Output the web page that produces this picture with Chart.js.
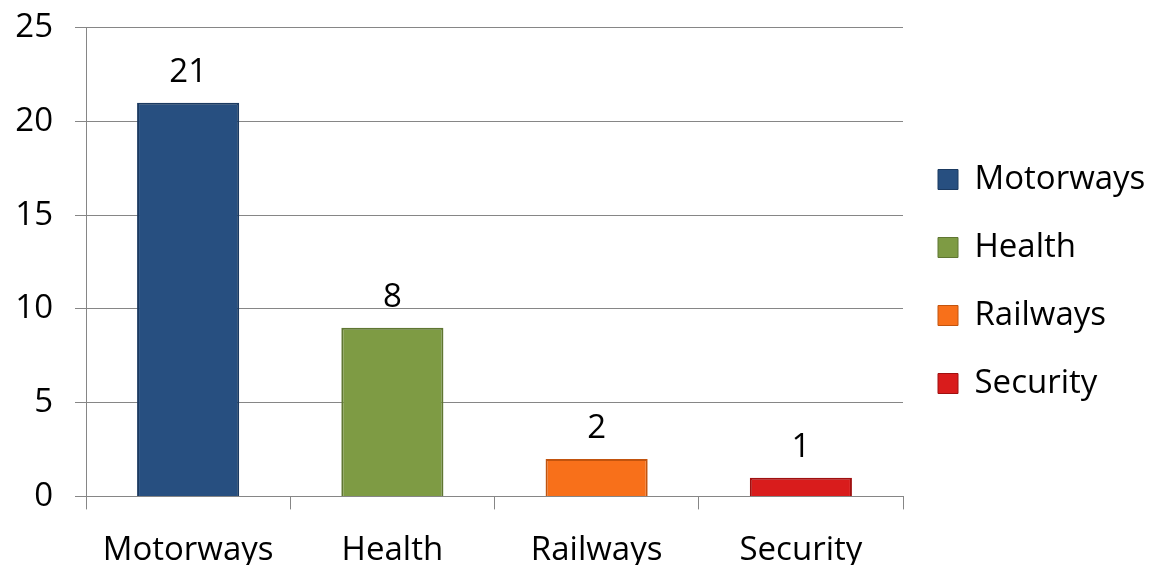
<!DOCTYPE html>
<html>
<head>
<meta charset="utf-8">
<script src="https://cdn.jsdelivr.net/npm/chart.js@4/dist/chart.umd.min.js"></script>
<style>
    html, body { margin: 0; padding: 0; background: #fff; }
    #wrap { width: 1155px; height: 565px; }
</style>
</head>
<body>
<div id="wrap"><canvas id="sectorChart"></canvas></div>
<script>
const categories = ['Motorways', 'Health', 'Railways', 'Security'];
const values = [21, 9, 2, 1];
const barLabels = ['21', '8', '2', '1'];
const barColors = ['#274f80', '#7e9b44', '#f8701a', '#d91c1c'];
const barEdges = ['#1b3a61', '#5f7632', '#c2540e', '#a01010'];
const yTicks = [0, 5, 10, 15, 20, 25];

const fontFamily = '"Open Sans", Carlito, Lato, sans-serif';
const fontSize = 33;
const legendWidth = 252;

// writes the number above each bar
const valueLabels = {
    id: 'valueLabels',
    afterDatasetsDraw(chart) {
        const ctx = chart.ctx;
        const meta = chart.getDatasetMeta(0);
        ctx.save();
        ctx.font = `${fontSize}px ${fontFamily}`;
        ctx.fillStyle = '#000';
        ctx.textAlign = 'center';
        ctx.textBaseline = 'alphabetic';
        meta.data.forEach((bar, i) => {
            ctx.fillText(barLabels[i], bar.x, bar.y - 21);
        });
        ctx.restore();
    }
};

// keep the legend column at a fixed width so the plot area lines up,
// and centre its items on the canvas rather than the padded area
const fixedLegend = {
    id: 'fixedLegend',
    beforeLayout(chart) {
        const legend = chart.legend;
        if (legend && !legend._fixedWidth) {
            const fit = legend.fit;
            legend.fit = function () {
                fit.call(this);
                this.width = legendWidth;
            };
            legend._fixedWidth = true;
        }
    },
    afterLayout(chart) {
        if (chart.legend) chart.legend.bottom -= 28;
    }
};

let ctx = document.getElementById('sectorChart').getContext('2d');
let sectorChart = new Chart(ctx, {
    type: 'bar',
    data: {
        labels: categories,
        datasets: [{
            data: values,
            backgroundColor: barColors,
            borderColor: barEdges,
            borderWidth: 2,
            barPercentage: 0.5,
            categoryPercentage: 1.0
        }]
    },
    options: {
        responsive: true,
        maintainAspectRatio: false,
        animation: false,
        layout: { padding: { top: 0, left: 0, right: 0, bottom: -26 } },
        plugins: {
            tooltip: { enabled: false },
            legend: {
                position: 'right',
                labels: {
                    font: { family: fontFamily, size: fontSize },
                    color: '#000',
                    boxWidth: 20,
                    boxHeight: 20,
                    padding: 35,
                    generateLabels: chart => chart.data.labels.map((label, i) => ({
                        text: label,
                        fillStyle: barColors[i],
                        strokeStyle: barEdges[i],
                        lineWidth: 1,
                        index: i
                    }))
                }
            }
        },
        scales: {
            x: {
                grid: {
                    offset: true,
                    drawOnChartArea: false,
                    drawTicks: true,
                    tickLength: 13,
                    color: '#868686'
                },
                border: { display: true, color: '#868686' },
                ticks: {
                    font: { family: fontFamily, size: fontSize },
                    color: '#000',
                    padding: 21
                }
            },
            y: {
                min: 0,
                max: 25,
                afterBuildTicks: axis => { axis.ticks = yTicks.map(v => ({ value: v })); },
                afterFit: axis => { axis.width = 86; },
                grid: { color: '#868686', tickLength: 11 },
                border: { display: true, color: '#868686' },
                ticks: {
                    font: { family: fontFamily, size: fontSize, lineHeight: 0.35 },
                    color: '#000',
                    padding: 22
                }
            }
        }
    },
    plugins: [valueLabels, fixedLegend]
});
</script>
</body>
</html>
